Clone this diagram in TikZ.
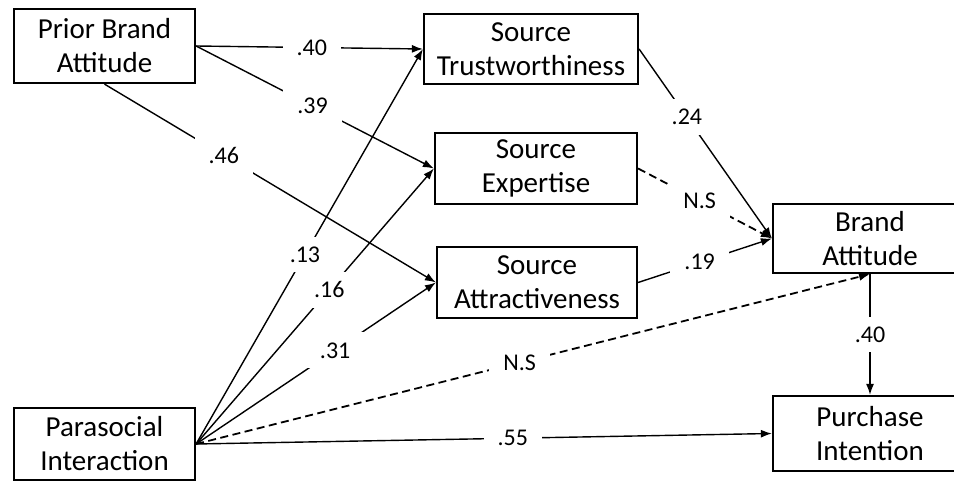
\documentclass[tikz,border=0pt]{standalone}
\usepackage{fontspec}
\setmainfont{Carlito}
\usetikzlibrary{arrows.meta}

\begin{document}
\begin{tikzpicture}[x=1pt,y=-1pt,
		caja/.style={draw,line width=2.2pt,align=center,inner sep=0pt,font=\fontsize{29}{34}\selectfont},
		peso/.style={fill=white,inner xsep=14pt,inner ysep=10pt,font=\fontsize{24}{24}\selectfont},
		flecha/.style={line width=1.4pt,-{Latex[length=11pt,width=8pt]}},
		ns/.style={line width=1.8pt,dash pattern=on 8pt off 4.5pt}]
		\useasboundingbox (0,0) rectangle (954,481);
		\clip (0,0) rectangle (954,481);
		% cajas
		\node[caja,minimum width=181pt,minimum height=74pt] (prior) at (104.5,46) {Prior Brand\\Attitude};
		\node[caja,minimum width=181pt,minimum height=72pt] (para) at (104.5,444) {Parasocial\\Interaction};
		\node[caja,minimum width=214pt,minimum height=70pt] (trust) at (531,49) {Source\\Trustworthiness};
		\node[caja,minimum width=202pt,minimum height=71pt] (expert) at (536,168.5) {Source\\Expertise};
		\node[caja,minimum width=200pt,minimum height=71pt] (attract) at (537,282.5) {Source\\Attractiveness};
		\node[caja,minimum width=194pt,minimum height=69pt] (brand) at (870,238.5) {Brand\\Attitude};
		\node[caja,minimum width=194pt,minimum height=75pt] (purchase) at (870,433.5) {Purchase\\Intention};
		% caminos significativos
		\foreach \De/\A/\Peso/\Pos in 
		{prior.east/trust.west/.40/0.51, prior.east/expert.west/.39/0.49, prior.south/attract.west/.46/0.36,
		 para.east/trust.west/.13/0.48, para.east/expert.west/.16/0.56, para.east/attract.west/.31/0.58,
		 para.east/purchase.west/.55/0.55, trust.east/brand.west/.24/0.36,
		 attract.east/brand.west/.19/0.46, brand.south/purchase.north/.40/0.5}
		{
			\draw[flecha] (\De) -- (\A) node[peso,pos=\Pos] {\Peso};
		}
		% no significativos
		\foreach \De/\A/\Pos in 
		{expert.east/brand.west/0.46, para.east/brand.south/0.48}
		{
			\draw[flecha,ns] (\De) -- (\A) node[peso,pos=\Pos] {N.S};
		}
\end{tikzpicture}
\end{document}
